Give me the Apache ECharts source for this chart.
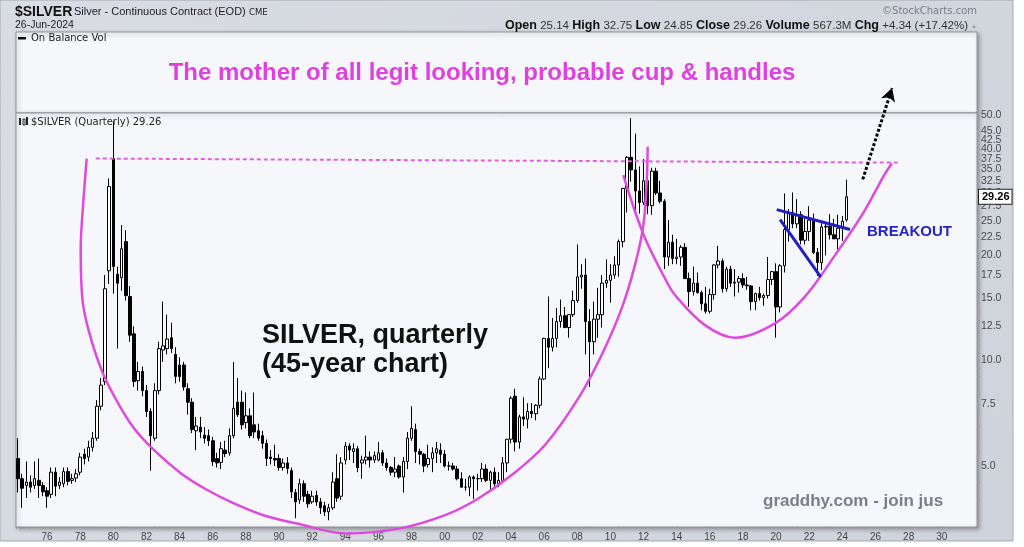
<!DOCTYPE html>
<html><head><meta charset="utf-8">
<script src="https://cdn.jsdelivr.net/npm/echarts@6/dist/echarts.min.js"></script>
<style>html,body{margin:0;padding:0;background:#fff}#c{width:1024px;height:547px}</style>
</head><body><div id="c"></div><script>
// ---- axis definitions ----
const startYear = 1974, startQuarter = 2, categoryCount = 232;
const yearTickLabels = ['76','78','80','82','84','86','88','90','92','94','96','98','00','02','04','06','08','10','12','14','16','18','20','22','24','26','28','30'];
const priceTickLabels = [5, 7.5, 10, 12.5, 15, 17.5, 20, 22.5, 25, 27.5, 30, 32.5, 35, 37.5, 40, 42.5, 45, 47.5, 50];
const priceMin = 3.35, priceMax = 50.7;

// ---- quarterly candles [open, close, low, high] ----
const d1970s = [
 [5.25,4.60,4.20,6.00],[4.60,4.32,3.80,4.75],[4.40,4.50,4.05,5.15],
 [4.50,4.35,4.20,4.70],[4.40,4.60,4.30,5.15],[4.55,4.40,4.05,5.25],[4.40,4.22,4.10,4.50],
 [4.25,4.10,3.80,4.35],[4.15,4.80,4.05,4.95],[4.80,4.38,4.10,4.95],[4.40,4.50,4.30,4.65],
 [4.45,4.82,4.35,4.95],[4.82,4.52,4.40,4.95],[4.55,4.60,4.45,4.75],[4.62,4.75,4.50,4.90],
 [4.80,5.30,4.70,5.45],[5.40,5.25,5.05,5.60],[5.30,5.65,5.15,5.90],[5.65,6.00,5.50,6.25],
 [6.00,7.40,5.90,7.70],[7.40,8.50,7.20,8.90],[8.70,16.0,8.50,17.5],[18.0,31.3,16.5,33.0]
];
const d1980s = [
 [37.6,18.5,15.5,48.0],[17.6,16.6,10.8,18.5],[17.2,20.8,15.8,24.3],[21.8,15.3,14.8,23.5],
 [15.2,11.8,11.3,16.3],[11.9,8.7,8.4,12.5],[8.75,9.3,8.2,9.9],[9.3,8.2,7.9,9.6],
 [8.2,7.15,6.9,8.5],[7.15,6.1,4.85,7.3],[6.0,8.2,5.9,8.6],[8.2,10.8,8.0,11.3],
 [10.7,11.0,9.9,14.7],[10.8,11.5,10.4,13.5],[11.6,10.8,10.5,12.8],[10.4,9.0,8.6,10.9],
 [9.7,9.0,8.7,10.2],[9.7,8.4,8.2,9.9],[8.3,7.6,7.0,8.6],[7.6,6.35,6.2,7.8],
 [6.3,6.5,5.55,6.9],[6.45,6.25,6.0,6.9],[6.12,6.0,5.8,6.45],[6.1,5.9,5.7,6.35],
 [5.9,5.15,5.0,6.05],[5.25,5.1,4.95,5.45],[5.12,5.6,4.9,5.85],[5.55,5.42,5.3,5.9],
 [5.45,6.1,5.35,6.4],[6.1,7.3,6.0,9.9],[7.6,7.0,6.9,8.9],[7.6,6.55,6.35,8.2],
 [6.65,6.95,6.4,8.1],[6.95,6.1,6.0,7.3],[6.55,6.25,6.0,8.1],[6.3,6.0,5.9,6.6],
 [6.1,5.8,5.6,6.3],[5.8,5.25,5.0,5.95],[5.3,5.25,5.05,5.55],[5.25,5.2,5.0,5.75]
];
const d1990s = [
 [5.25,4.95,4.85,5.4],[4.95,5.1,4.85,5.25],[5.1,4.92,4.75,5.3],[4.85,4.22,4.05,4.95],
 [4.2,3.95,3.55,4.3],[4.0,4.45,3.9,4.6],[4.45,4.1,3.95,4.55],[4.15,3.9,3.8,4.25],
 [3.95,4.1,3.9,4.25],[4.12,3.95,3.85,4.25],[3.95,3.8,3.65,4.05],[3.85,3.7,3.6,3.95],
 [3.7,3.8,3.5,3.9],[3.8,4.5,3.75,4.8],[4.6,4.05,3.95,5.4],[4.1,5.1,4.0,5.3],
 [5.2,5.7,5.05,5.85],[5.7,5.55,5.2,5.8],[5.5,5.6,5.1,5.8],[5.6,4.95,4.8,5.7],
 [5.1,5.2,4.6,5.35],[5.2,5.3,5.05,6.1],[5.3,5.2,4.95,5.5],[5.2,5.35,5.1,5.5],
 [5.2,5.45,5.15,5.85],[5.45,5.1,5.0,5.55],[5.1,4.95,4.85,5.25],[4.95,4.8,4.7,5.0],
 [4.8,4.9,4.65,5.3],[5.0,4.65,4.6,5.05],[4.65,5.15,4.2,5.3],[5.15,6.0,4.9,6.25],
 [6.0,6.4,5.9,7.4],[6.35,5.5,5.1,6.6],[5.5,5.4,5.05,5.6],[5.4,5.0,4.8,5.45],
 [5.05,5.25,4.95,5.75],[5.25,5.45,4.8,5.65],[5.45,5.6,5.1,5.85],[5.55,5.4,5.1,5.8]
];
const d2000s = [
 [5.40,5.00,4.95,5.55],[5.00,5.00,4.85,5.15],[5.00,4.90,4.85,5.10],[4.90,4.60,4.55,5.00],
 [4.60,4.35,4.35,4.80],[4.35,4.35,4.25,4.60],[4.35,4.65,4.10,4.70],[4.65,4.60,4.02,4.70],
 [4.60,4.60,4.25,4.75],[4.60,4.90,4.50,5.10],[4.90,4.55,4.50,5.05],[4.55,4.80,4.30,4.85],
 [4.80,4.45,4.35,4.95],[4.45,4.55,4.35,4.80],[4.55,5.10,4.50,5.30],[5.10,5.96,4.80,5.97],
 [5.96,7.80,5.80,7.90],[7.90,5.85,5.50,8.30],[5.85,6.90,5.60,7.00],[6.90,6.80,6.50,7.85],
 [6.80,7.15,6.40,7.55],[7.15,7.05,6.85,7.55],[7.05,7.45,6.75,7.50],[7.45,8.85,7.30,9.00],
 [8.85,11.55,8.80,11.60],[11.55,10.90,9.50,15.20],[10.90,11.55,10.60,13.20],[11.55,12.90,10.90,14.10],
 [12.90,13.40,12.40,14.90],[13.40,12.40,12.40,14.20],[12.40,13.50,11.60,13.50],[13.50,14.80,13.30,15.80],
 [14.80,17.30,14.60,21.40],[17.30,17.50,16.00,18.80],[17.50,12.90,10.40,19.50],[12.90,11.30,8.40,14.00],
 [11.30,13.10,10.40,14.70],[13.10,13.50,11.60,16.10],[13.50,16.60,12.40,17.50],[16.60,16.90,16.10,19.40]
];
const d2010s = [
 [16.90,17.50,14.60,18.80],[17.50,18.70,17.10,19.80],[18.70,21.80,17.30,22.10],[21.80,30.90,21.00,31.00],
 [30.90,37.90,26.40,38.20],[37.90,34.90,32.30,49.00],[34.90,30.40,26.10,44.30],[30.40,28.20,26.20,35.70],
 [28.20,32.50,27.70,37.50],[32.50,27.60,26.10,33.30],[27.60,34.60,26.00,35.40],[34.60,30.00,29.60,35.40],
 [30.00,28.40,28.00,32.50],[28.40,19.70,18.20,28.80],[19.70,21.70,18.60,25.10],[21.70,19.50,18.80,22.80],
 [19.50,19.70,18.80,22.20],[19.70,21.00,18.60,21.30],[21.00,17.10,17.10,21.60],[17.10,15.70,14.20,17.80],
 [15.70,16.60,15.30,18.50],[16.60,15.60,15.50,17.80],[15.60,14.50,13.90,15.80],[14.50,13.80,13.60,16.20],
 [13.80,15.40,13.60,16.00],[15.40,18.70,14.90,18.80],[18.70,19.20,18.30,21.20],[19.20,16.00,15.60,19.50],
 [16.00,18.20,15.70,18.50],[18.20,16.60,16.20,18.60],[16.60,16.70,15.20,18.20],[16.70,17.10,15.60,17.40],
 [17.10,16.40,16.10,17.70],[16.40,16.30,15.90,17.30],[16.30,14.70,13.90,16.40],[14.70,15.50,13.90,15.60],
 [15.50,15.10,14.80,16.20],[15.10,15.30,14.30,15.50],[15.30,17.00,15.00,19.70],[17.00,17.90,16.40,18.00]
];
const d2020s = [
 [17.90,14.20,11.60,18.90],[14.20,18.60,13.70,18.80],[18.60,23.60,17.80,29.90],[23.60,26.40,21.80,27.00],
 [26.40,24.50,23.80,30.10],[24.50,26.00,23.80,28.80],[26.00,22.00,21.40,26.60],[22.00,23.30,21.40,25.40],
 [23.30,25.10,21.90,27.50],[25.10,20.30,20.10,26.20],[20.30,19.00,17.40,20.90],[19.00,24.00,18.10,24.60],
 [24.00,24.10,19.90,24.60],[24.10,22.80,22.10,26.10],[22.80,22.20,22.20,25.30],[22.20,23.80,20.70,26.00],
 [23.80,24.92,21.90,25.80],[25.14,29.26,24.85,32.75]
];
const lastVolume = '567.3M';

// ---- annotations, in [decimal year, price] ----
const cupBig = [[1978.39,37.6],[1978.13,25.9],[1978.03,20.9],[1978.13,15.0],[1978.53,12.07],[1979.33,9.28],[1980.24,7.62],[1981.25,6.40],[1982.35,5.61],[1984.07,4.77],[1985.67,4.27],[1987.28,3.91],[1989.05,3.62],[1991.27,3.41],[1994.08,3.21],[1997.30,3.32],[2000.02,3.62],[2002.03,4.04],[2004.04,4.71],[2006.05,5.74],[2008.06,7.79],[2009.47,10.36],[2010.68,14.07],[2011.48,18.69],[2011.99,24.3],[2012.19,32.3],[2012.25,40.6]];
const cupHandle = [[2010.78,33.7],[2011.29,28.3],[2012.09,22.3],[2013.30,17.1],[2013.90,15.35],[2015.71,12.6],[2017.52,11.6],[2019.93,12.75],[2021.74,15.2],[2023.56,19.95],[2025.17,25.9],[2025.97,30.2],[2026.47,33.4],[2026.98,36.4]];
const resistance = [[1978.94,37.6],[2027.48,36.6]];
const wedgeUpper = [[2020.04,26.9],[2024.46,23.6]];
const wedgeLower = [[2020.24,25.2],[2022.69,17.3]];
const targetArrow = [[2025.23,32.8],[2027.0,59.7]];

// ---- build ----
const candles = [].concat(d1970s, d1980s, d1990s, d2000s, d2010s, d2020s);
const quarters = [];
for (let i = 0; i < categoryCount; i++) {
  const q0 = (startQuarter - 1) + i;
  quarters.push((startYear + Math.floor(q0 / 4)) + 'Q' + (q0 % 4 + 1));
}
const last = candles[candles.length - 1], prev = candles[candles.length - 2];
const chg = last[1] - prev[1];
const yearMin = startYear + (startQuarter - 1) * 0.25 - 0.125;
const yearMax = yearMin + categoryCount * 0.25;
const minorTicks = [];
for (let v = 3.5; v <= 20.001; v += 0.5) minorTicks.push(+v.toFixed(2));
for (let v = 22.5; v <= 50.001; v += 1.25) minorTicks.push(+v.toFixed(2));

const PINK = '#de4ade', BLUE = '#2020c0';
const SANS = '"Liberation Sans", Arial, sans-serif';
const DV = '"DejaVu Sans", Verdana, sans-serif';

const chart = echarts.init(document.getElementById('c'), null, {renderer: 'canvas'});
const annot = (data, color, width, type, z) => ({
  type: 'line', xAxisIndex: 1, yAxisIndex: 0, data, smooth: data.length > 2 ? 0.35 : false,
  symbol: 'none', clip: false, silent: true, z: z || 4,
  lineStyle: {color, width, type: type || 'solid'}
});

chart.setOption({
  animation: false,
  backgroundColor: '#ffffff',
  grid: {left: 16, top: 113, width: 961, height: 414, show: true, backgroundColor: '#f6f7fa',
    borderColor: '#8e9299', borderWidth: 1, shadowColor: 'rgba(0,0,0,0.3)', shadowBlur: 4, shadowOffsetX: 2, shadowOffsetY: 2},
  xAxis: [{
    type: 'category', data: quarters, boundaryGap: true,
    axisLine: {show: true, lineStyle: {color: '#8e9299'}},
    axisTick: {show: true, interval: 0, length: 2, lineStyle: {color: '#9a9ea6'}},
    axisLabel: {interval: (i, v) => v.endsWith('Q1') && yearTickLabels.includes(v.slice(2, 4)),
      formatter: v => v.slice(2, 4), fontSize: 10, color: '#444', margin: 5, fontFamily: SANS},
    splitLine: {show: false}
  }, {
    type: 'value', min: yearMin, max: yearMax, show: false
  }],
  yAxis: [{
    type: 'log', logBase: 10, position: 'right', min: priceMin, max: priceMax,
    axisLine: {show: true, lineStyle: {color: '#8e9299'}},
    axisTick: {show: true, length: 3, customValues: minorTicks, lineStyle: {color: '#9a9ea6'}},
    axisLabel: {customValues: priceTickLabels, formatter: v => Number(v).toFixed(1), fontSize: 10.5, color: '#4a4a4a', margin: 4,
      fontFamily: SANS, hideOverlap: false, showMinLabel: true, showMaxLabel: true},
    splitLine: {show: false}, minorTick: {show: false}
  }],
  series: [
    {
      type: 'candlestick', data: candles, barWidth: 3, z: 2, silent: true,
      itemStyle: {color: '#ffffff', color0: '#000000', borderColor: '#000000', borderColor0: '#000000', borderWidth: 1},
      markLine: {
        silent: true, symbol: ['none', 'none'], animation: false, z: 10,
        lineStyle: {color: 'rgba(0,0,0,0)', width: 0, opacity: 1},
        label: {show: true, position: 'end', distance: 2, formatter: () => last[1].toFixed(2),
          backgroundColor: '#ffffff', borderColor: '#222', borderWidth: 1, padding: [2, 2, 1, 3],
          color: '#000', fontWeight: 'bold', fontSize: 11, fontFamily: SANS, opacity: 1},
        data: [{yAxis: last[1]}]
      }
    },
    annot(cupBig, PINK, 2.5),
    annot(cupHandle, PINK, 2.5),
    annot(resistance, '#e060e0', 2, [4, 3]),
    annot(wedgeUpper, BLUE, 3),
    annot(wedgeLower, BLUE, 3),
    {
      type: 'line', xAxisIndex: 1, yAxisIndex: 0, clip: false, silent: true, z: 5,
      data: [{value: targetArrow[0], symbol: 'none'},
             {value: targetArrow[1], symbol: 'arrow', symbolSize: [11, 13], symbolRotate: -18}],
      showSymbol: true, itemStyle: {color: '#000'},
      lineStyle: {color: '#000', width: 3, type: [3, 2]}
    }
  ],
  graphic: [
    {type: 'rect', z: -100, silent: true, shape: {x: 0, y: 0, width: 1013, height: 541},
      style: {fill: {type: 'linear', x: 0, y: 0, x2: 1, y2: 1, colorStops: [{offset: 0, color: '#d9dce3'}, {offset: 1, color: '#cfd3db'}]},
        stroke: '#a3a7b0', lineWidth: 1}},
    {type: 'rect', z: -50, silent: true, shape: {x: 16, y: 32, width: 961, height: 81},
      style: {fill: '#f6f7fa', stroke: '#8e9299', lineWidth: 1, shadowColor: 'rgba(0,0,0,0.3)', shadowBlur: 4, shadowOffsetX: 2, shadowOffsetY: 2}},
    // header
    {type: 'text', z: 100, x: 15, y: 12, style: {text: '$SILVER', font: 'bold 14px ' + SANS, fill: '#111', verticalAlign: 'middle'}},
    {type: 'text', z: 100, x: 74, y: 12, style: {text: 'Silver - Continuous Contract (EOD)', font: '11px ' + SANS, fill: '#222', verticalAlign: 'middle'}},
    {type: 'text', z: 100, x: 249, y: 13, style: {text: 'CME', font: '8.5px ' + DV, fill: '#222', verticalAlign: 'middle'}},
    {type: 'text', z: 100, x: 15, y: 25, style: {text: '26-Jun-2024', font: '10.5px ' + SANS, fill: '#222', verticalAlign: 'middle'}},
    {type: 'text', z: 100, x: 977, y: 11, style: {text: '\u00a9StockCharts.com', font: '10px ' + DV, fill: '#7a7d85', align: 'right', verticalAlign: 'middle'}},
    {type: 'text', z: 100, x: 968, y: 26, style: {
      text: `{b|Open} {v|${last[0].toFixed(2)}} {b|High} {v|${last[3].toFixed(2)}} {b|Low} {v|${last[2].toFixed(2)}} {b|Close} {v|${last[1].toFixed(2)}} {b|Volume} {v|${lastVolume}} {b|Chg} {v|${chg >= 0 ? '+' : ''}${chg.toFixed(2)} (${chg >= 0 ? '+' : ''}${(chg / prev[1] * 100).toFixed(2)}%)}`,
      align: 'right', verticalAlign: 'middle',
      rich: {b: {font: 'bold 12.5px ' + SANS, fill: '#111'}, v: {font: '11.5px ' + SANS, fill: '#333'}}}},
    {type: 'text', z: 100, x: 971, y: 26, style: {text: '\u25B2', font: '6px ' + SANS, fill: '#999', verticalAlign: 'middle'}},
    // top panel
    {type: 'rect', z: 100, silent: true, shape: {x: 18, y: 37, width: 8, height: 2.5}, style: {fill: '#111'}},
    {type: 'text', z: 100, x: 31, y: 38.5, style: {text: 'On Balance Vol', font: '10px ' + DV, fill: '#222', verticalAlign: 'middle'}},
    {type: 'text', z: 100, x: 482, y: 73, style: {text: 'The mother of all legit looking, probable cup & handles', font: 'bold 24px ' + SANS, fill: '#e040e0', align: 'center', verticalAlign: 'middle'}},
    // main panel label
    {type: 'rect', z: 100, silent: true, shape: {x: 19, y: 118, width: 2, height: 7}, style: {fill: '#222'}},
    {type: 'rect', z: 100, silent: true, shape: {x: 23, y: 119, width: 2, height: 6}, style: {fill: '#fff', stroke: '#222', lineWidth: 1}},
    {type: 'rect', z: 100, silent: true, shape: {x: 26, y: 117, width: 2, height: 8}, style: {fill: '#222'}},
    {type: 'text', z: 100, x: 31, y: 122, style: {text: '$SILVER (Quarterly) ' + last[1].toFixed(2), font: '10px ' + DV, fill: '#222', verticalAlign: 'middle'}},
    // annotations text
    {type: 'text', z: 100, x: 262, y: 336, style: {text: 'SILVER, quarterly', font: 'bold 27px ' + SANS, fill: '#111', verticalAlign: 'middle'}},
    {type: 'text', z: 100, x: 262, y: 365, style: {text: '(45-year chart)', font: 'bold 27px ' + SANS, fill: '#111', verticalAlign: 'middle'}},
    {type: 'text', z: 100, x: 867, y: 232, style: {text: 'BREAKOUT', font: 'bold 15px ' + SANS, fill: '#2424c8', verticalAlign: 'middle'}},
    {type: 'text', z: 100, x: 763, y: 501, style: {text: 'graddhy.com - join jus', font: 'bold 17px ' + SANS, fill: '#7b7e84', verticalAlign: 'middle'}}
  ]
});
</script></body></html>
